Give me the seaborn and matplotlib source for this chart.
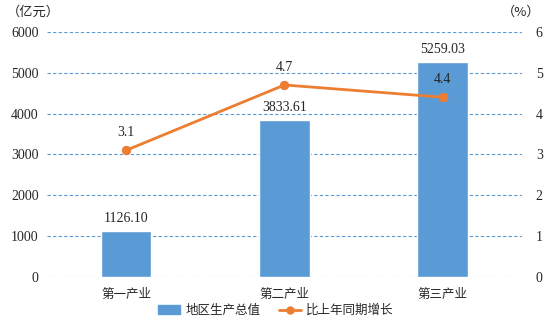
import matplotlib
matplotlib.use("Agg")
import matplotlib.pyplot as plt
import seaborn as sns
import pandas as pd
from matplotlib.lines import Line2D
from matplotlib.patches import Patch

categories = ["第一产业", "第二产业", "第三产业"]
gdp = [1126.10, 3833.61, 5259.03]
growth = [3.1, 4.7, 4.4]
left_ticks = [0, 1000, 2000, 3000, 4000, 5000, 6000]
right_ticks = [0, 1, 2, 3, 4, 5, 6]

sns.set_theme(style="white")
plt.rcParams['font.family'] = ['Liberation Serif', 'Noto Sans CJK SC', 'DejaVu Sans']
cjk = ['Noto Sans CJK SC', 'DejaVu Sans']

bar_color = "#5B9BD5"
line_color = "#ED7D31"

df = pd.DataFrame({"cat": categories, "gdp": gdp, "growth": growth})

fig = plt.figure(figsize=(5.46, 3.22), dpi=100)
ax = fig.add_axes([0.086, 0.140, 0.870, 0.761])
sns.barplot(data=df, x="cat", y="gdp", color=bar_color, width=0.32, ax=ax, saturation=1)
ax.set_ylim(0, 6000)
ax.set_xlim(-0.5, 2.5)
ax.set_yticks(left_ticks)
ax.set_yticklabels([str(t) for t in left_ticks], fontsize=10)
ax.yaxis.grid(True, linestyle=(0, (3, 2)), color=bar_color, linewidth=0.8)
ax.set_axisbelow(True)
for s in ax.spines.values():
    s.set_visible(False)
ax.set_xlabel("")
ax.set_ylabel("")
ax.tick_params(axis='y', length=0, pad=6)
ax.tick_params(axis='x', length=0, pad=8)
ax.set_xticks(range(len(categories)))
ax.set_xticklabels(categories, fontsize=9, family=cjk)
for i, v in enumerate(gdp):
    ax.text(i, v + 150, f"{v:.2f}", ha="center", va="bottom", fontsize=10)

ax2 = ax.twinx()
sns.lineplot(x=list(range(len(categories))), y=growth, ax=ax2, color=line_color,
             marker="o", markersize=6, linewidth=2, markeredgecolor=line_color)
ax2.set_ylim(0, 6)
ax2.set_yticks(right_ticks)
ax2.set_yticklabels([str(t) for t in right_ticks], fontsize=10)
ax2.tick_params(axis='y', length=0, pad=10)
for s in ax2.spines.values():
    s.set_visible(False)
for i, v in enumerate(growth):
    ax2.text(i, v + 0.28, f"{v}", ha="center", va="bottom", fontsize=10)

fig.text(0.012, 0.963, "（亿元）", fontsize=9.5, family=cjk, ha="left", va="center")
fig.text(0.99, 0.963, "（%）", fontsize=9.5, family=cjk, ha="right", va="center")

handles = [Patch(color=bar_color), Line2D([0], [0], color=line_color, marker="o", linewidth=2, markersize=5)]
fig.legend(handles, ["地区生产总值", "比上年同期增长"], loc="center", bbox_to_anchor=(0.505, 0.035),
           ncol=2, frameon=False, prop={'family': cjk, 'size': 9}, handlelength=1.8,
           handletextpad=0.4, columnspacing=1.5)

fig.savefig("out.png", dpi=100)
